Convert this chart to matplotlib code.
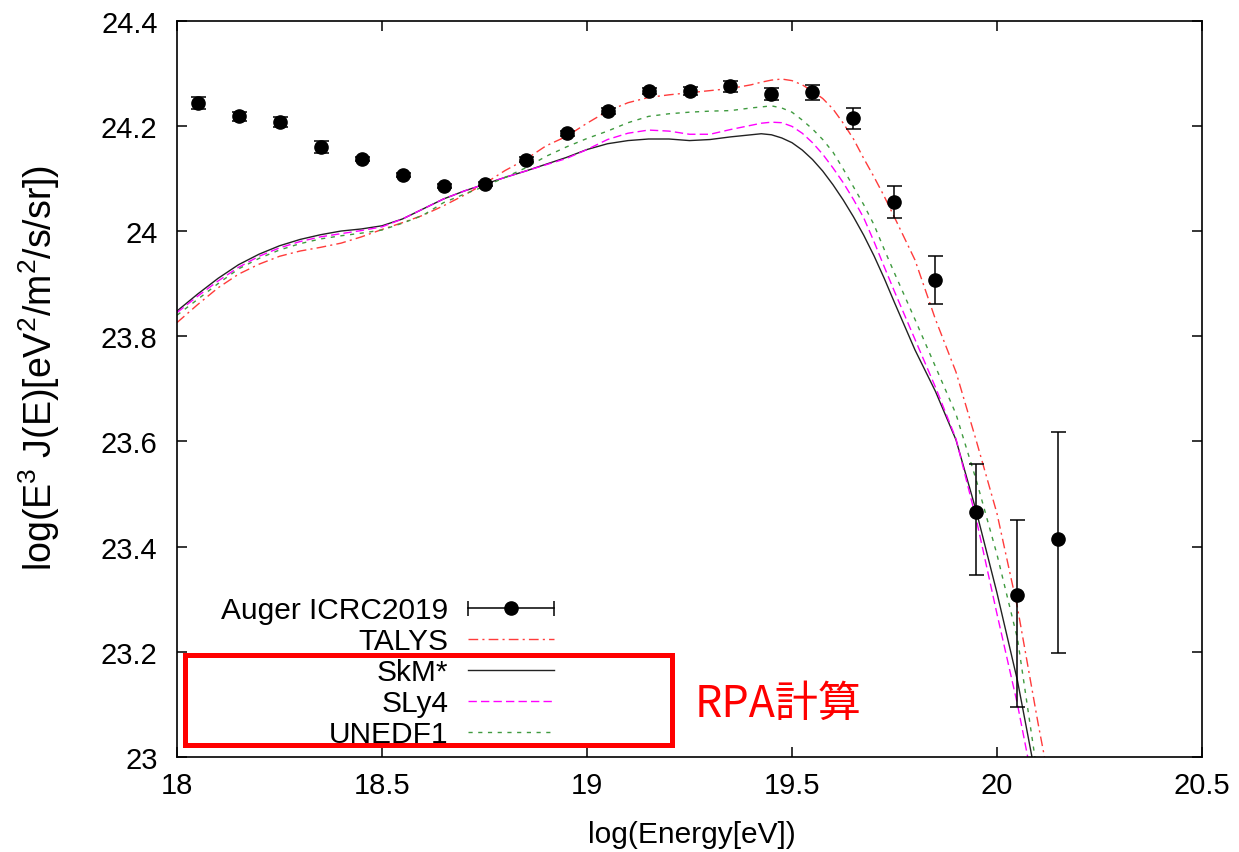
import numpy as np
import matplotlib
matplotlib.use('Agg')
import matplotlib.pyplot as plt
from matplotlib.legend_handler import HandlerBase
from matplotlib.lines import Line2D
from matplotlib.patches import Rectangle

plt.rcParams['font.family'] = ['Liberation Sans', 'DejaVu Sans']
plt.rcParams['mathtext.default'] = 'regular'

# ---- Auger ICRC2019 spectrum ----
auger_x = [18.05, 18.15, 18.25, 18.35, 18.45, 18.55, 18.65, 18.75, 18.85, 18.95, 19.05,
           19.15, 19.25, 19.35, 19.45, 19.55, 19.65, 19.75, 19.85, 19.95, 20.05, 20.15]
auger_y = [24.243, 24.218, 24.207, 24.160, 24.137, 24.107, 24.086, 24.089, 24.136, 24.186, 24.228,
           24.266, 24.266, 24.275, 24.261, 24.264, 24.214, 24.055, 23.907, 23.465, 23.308, 23.415]
auger_lo = [0.011, 0.008, 0.009, 0.012, 0.004, 0.004, 0.004, 0.004, 0.004, 0.005, 0.005,
            0.006, 0.007, 0.011, 0.011, 0.014, 0.020, 0.030, 0.046, 0.119, 0.213, 0.218]
auger_hi = [0.011, 0.008, 0.009, 0.012, 0.004, 0.004, 0.004, 0.004, 0.004, 0.005, 0.005,
            0.006, 0.007, 0.011, 0.011, 0.014, 0.020, 0.030, 0.046, 0.093, 0.142, 0.202]

# ---- model curves (common energy grid, finer around the cutoff) ----
curve_x = [18.00, 18.05, 18.10, 18.15, 18.20, 18.25, 18.30, 18.35, 18.40, 18.45,
           18.50, 18.55, 18.60, 18.65, 18.70, 18.75, 18.80, 18.85, 18.90, 18.95,
           19.00, 19.05, 19.10, 19.15, 19.20, 19.25, 19.30, 19.35, 19.40, 19.425,
           19.45, 19.475, 19.50, 19.525, 19.55, 19.575, 19.60, 19.625, 19.65, 19.675,
           19.70, 19.725, 19.75, 19.80, 19.85, 19.90, 19.95, 20.00, 20.05, 20.10, 20.15]
talys = [23.826, 23.860, 23.892, 23.918, 23.937, 23.952, 23.962, 23.969, 23.977, 23.989,
         24.003, 24.016, 24.030, 24.048, 24.068, 24.090, 24.115, 24.136, 24.162, 24.180,
         24.205, 24.228, 24.244, 24.254, 24.259, 24.263, 24.267, 24.271, 24.278, 24.283,
         24.287, 24.289, 24.286, 24.278, 24.266, 24.252, 24.232, 24.205, 24.175, 24.138,
         24.103, 24.066, 24.026, 23.945, 23.832, 23.732, 23.600, 23.463, 23.284, 23.065, 22.860]
skm = [23.848, 23.880, 23.910, 23.936, 23.956, 23.972, 23.984, 23.993, 24.000, 24.004,
       24.010, 24.023, 24.042, 24.061, 24.076, 24.089, 24.102, 24.114, 24.127, 24.140,
       24.155, 24.166, 24.172, 24.175, 24.175, 24.172, 24.174, 24.179, 24.183, 24.185,
       24.183, 24.177, 24.168, 24.154, 24.136, 24.114, 24.088, 24.059, 24.027, 23.992,
       23.953, 23.910, 23.864, 23.774, 23.695, 23.603, 23.466, 23.312, 23.145, 22.940, 22.740]
sly4 = [23.845, 23.876, 23.905, 23.931, 23.952, 23.968, 23.980, 23.989, 23.995, 24.001,
        24.008, 24.023, 24.042, 24.061, 24.076, 24.089, 24.102, 24.114, 24.126, 24.138,
        24.155, 24.174, 24.186, 24.192, 24.190, 24.184, 24.184, 24.193, 24.201, 24.205,
        24.207, 24.206, 24.199, 24.186, 24.168, 24.146, 24.120, 24.092, 24.060, 24.025,
        23.980, 23.932, 23.885, 23.794, 23.703, 23.605, 23.450, 23.272, 23.100, 22.900, 22.700]
unedf1 = [23.840, 23.870, 23.900, 23.928, 23.948, 23.964, 23.976, 23.985, 23.991, 23.996,
          24.002, 24.015, 24.030, 24.054, 24.070, 24.085, 24.102, 24.120, 24.142, 24.160,
          24.176, 24.190, 24.206, 24.218, 24.223, 24.226, 24.228, 24.229, 24.234, 24.236,
          24.238, 24.234, 24.226, 24.211, 24.194, 24.174, 24.150, 24.118, 24.084, 24.050,
          24.012, 23.965, 23.920, 23.832, 23.742, 23.652, 23.525, 23.385, 23.225, 22.960, 22.700]


class HandlerHBar(HandlerBase):
    """gnuplot style sample: horizontal bar with caps and a dot in the middle"""
    def create_artists(self, legend, orig_handle, xdescent, ydescent,
                       width, height, fontsize, trans):
        y = height / 2 - ydescent
        x0, x1 = -xdescent, width - xdescent
        bar = Line2D([x0, x1], [y, y], color='black', lw=1.1)
        caps = Line2D([x0, x1], [y, y], ls='none', marker='|', ms=10.8, mew=1.1, color='black')
        dot = Line2D([(x0 + x1) / 2], [y], ls='none', marker='o', ms=9.5, color='black')
        for a in (bar, caps, dot):
            a.set_transform(trans)
        return [bar, caps, dot]


fig = plt.figure(figsize=(12.39, 8.53), dpi=100)
ax = fig.add_axes([0.1429, 0.1114, 0.8272, 0.8632])

auger = ax.errorbar(auger_x, auger_y, yerr=[auger_lo, auger_hi], fmt='o', color='black',
                    ms=9.5, elinewidth=1.1, capsize=5.4, capthick=1.1, zorder=5)

l_talys, = ax.plot(curve_x, talys, color='#ff3b3b', lw=1.0, dashes=(7, 3, 1.5, 3))
l_skm, = ax.plot(curve_x, skm, color='#222222', lw=1.0)
l_sly4, = ax.plot(curve_x, sly4, color='#ff00ff', lw=1.0, dashes=(6, 3))
l_unedf, = ax.plot(curve_x, unedf1, color='#3f9a3f', lw=1.0, dashes=(3, 4))

ax.set_xlim(18, 20.5)
ax.set_ylim(23, 24.4)
ax.set_xticks([18, 18.5, 19, 19.5, 20, 20.5])
ax.set_xticklabels(['18', '18.5', '19', '19.5', '20', '20.5'])
ax.set_yticks([23, 23.2, 23.4, 23.6, 23.8, 24, 24.2, 24.4])
ax.set_yticklabels(['23', '23.2', '23.4', '23.6', '23.8', '24', '24.2', '24.4'])
ax.tick_params(direction='in', length=7.2, width=1.1, top=True, right=True, labelsize=21)
ax.tick_params(axis='x', pad=10)
ax.tick_params(axis='y', pad=14)
for s in ax.spines.values():
    s.set_linewidth(1.2)

ax.set_xlabel('log(Energy[eV])', fontsize=21.5)
ax.xaxis.set_label_coords(0.502, -0.086)
ax.set_ylabel(r'log(E$^3$ J(E)[eV$^2$/m$^2$/s/sr])', fontsize=27)
ax.yaxis.set_label_coords(-0.112, 0.53)

ax.legend([auger, l_talys, l_skm, l_sly4, l_unedf],
          ['Auger ICRC2019', 'TALYS', 'SkM*', 'SLy4', 'UNEDF1'],
          loc='upper right', bbox_to_anchor=(0.368, 0.218), frameon=False,
          markerfirst=False, fontsize=21.5, handlelength=2.88, handletextpad=0.67,
          labelspacing=0.1, borderpad=0, borderaxespad=0,
          handler_map={auger: HandlerHBar()})

# annotation: red box around the RPA results + label
fig.add_artist(Rectangle((185 / 1239, 1 - 746 / 853), 487 / 1239, 90 / 853,
                         transform=fig.transFigure, fill=False, edgecolor='#ff0000',
                         lw=3.6, zorder=10))
fig.text(695 / 1239, 1 - 705 / 853, 'RPA計算', color='#ff0000', fontsize=31,
         va='center', ha='left', family=['Noto Sans CJK JP', 'DejaVu Sans'])

fig.savefig('out.png', dpi=100)
